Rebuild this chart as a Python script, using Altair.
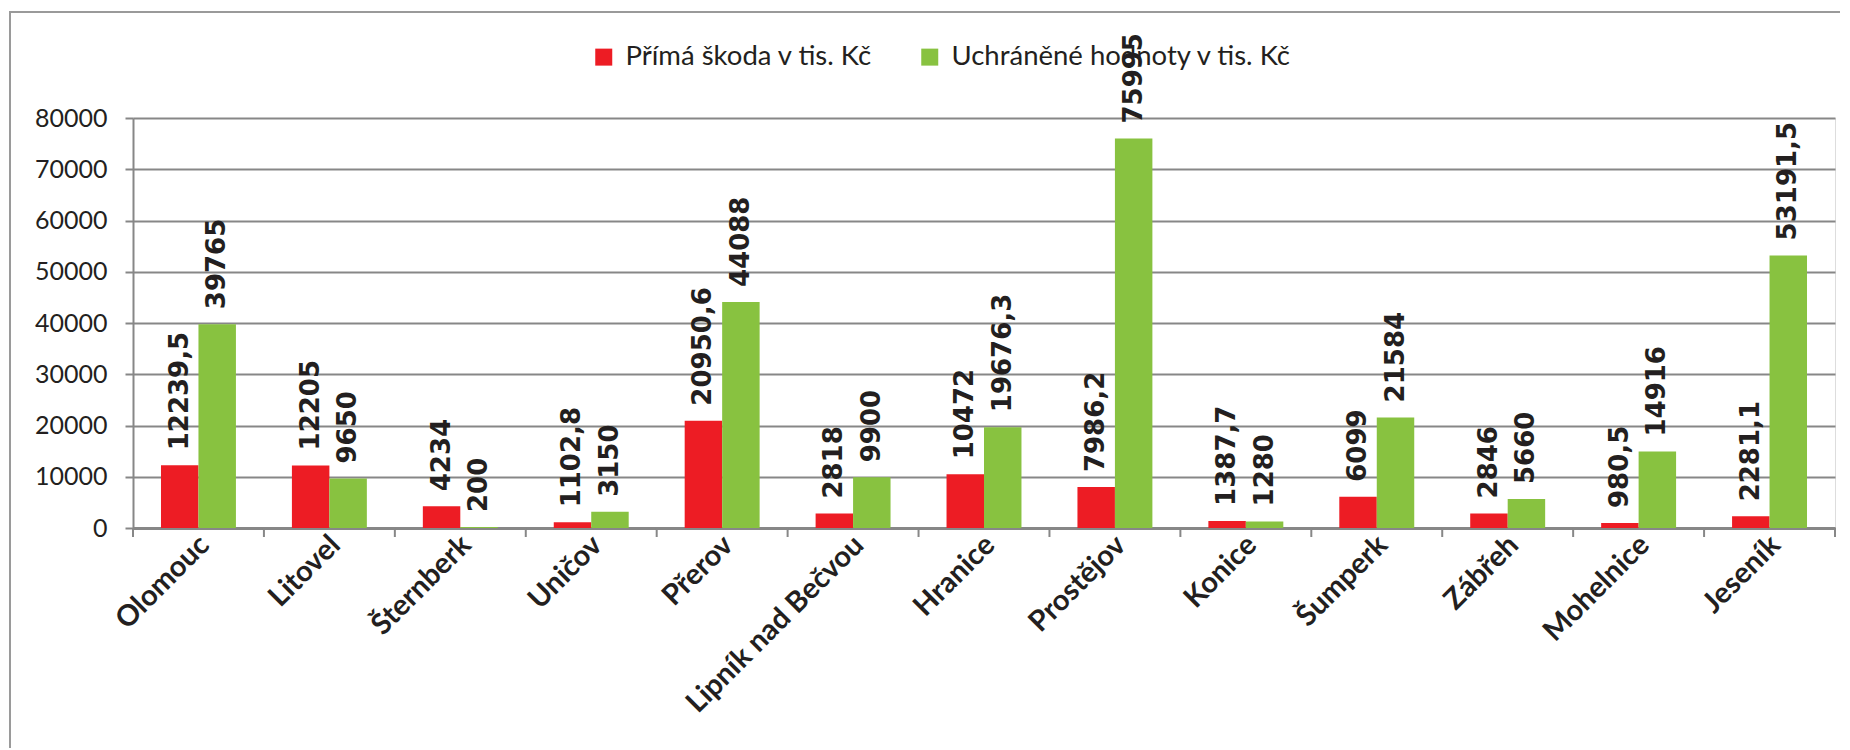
import altair as alt
import pandas as pd

cities = ["Olomouc", "Litovel", "Šternberk", "Uničov", "Přerov", "Lipník nad Bečvou",
          "Hranice", "Prostějov", "Konice", "Šumperk", "Zábřeh", "Mohelnice", "Jeseník"]
prima_skoda = [12239.5, 12205, 4234, 1102.8, 20950.6, 2818, 10472, 7986.2, 1387.7, 6099, 2846, 980.5, 2281.1]
uchranene = [39765, 9650, 200, 3150, 44088, 9900, 19676.3, 75995, 1280, 21584, 5660, 14916, 53191.5]
series = ["Přímá škoda v tis.  Kč", "Uchráněné hodnoty v tis. Kč"]
colors = ["#ED1C24", "#88C240"]
y_ticks = [0, 10000, 20000, 30000, 40000, 50000, 60000, 70000, 80000]

rows = []
for c, a, b in zip(cities, prima_skoda, uchranene):
    for s, v in zip(series, [a, b]):
        rows.append({"city": c, "series": s, "value": v,
                     "label": f"{v:g}".replace(".", ",")})
df = pd.DataFrame(rows)
cities_df = pd.DataFrame({"city": cities})
one = pd.DataFrame({"a": [0]})

W, H = 1702, 410
GRAY = "#878787"
TXT = "#231F20"

x_scale = alt.Scale(paddingInner=0, paddingOuter=0)
x_axis = alt.Axis(labelAngle=-45, labelAlign="right", labelBaseline="middle",
                  labelFont="Lato", labelFontWeight="bold", labelFontSize=29,
                  labelColor=TXT, labelPadding=12, labelLimit=500, labelOffset=6,
                  ticks=False, labelOverlap=False,
                  domainColor=GRAY, domainWidth=3, grid=False)
x_enc = alt.X("city:N", sort=cities, title=None, scale=x_scale, axis=x_axis)
xoff = alt.XOffset("series:N", sort=series,
                   scale=alt.Scale(paddingInner=0, paddingOuter=0.747))
y_enc = alt.Y("value:Q", title=None,
              scale=alt.Scale(domain=[0, 80000], nice=False),
              axis=alt.Axis(values=y_ticks, format="d", labelFont="Lato", labelFontSize=25,
                            labelColor=TXT, labelPadding=18, tickSize=8, tickColor=GRAY,
                            tickWidth=2, domainColor=GRAY, domainWidth=2,
                            gridColor=GRAY, gridWidth=2, grid=True))

border = alt.Chart(one).mark_rect(fillOpacity=0, stroke="#9a9a9a", strokeWidth=2).encode(
    x=alt.value(-123), y=alt.value(-106), x2=alt.value(W + 200), y2=alt.value(H + 400))

bars = alt.Chart(df).mark_bar().encode(
    x=x_enc, xOffset=xoff, y=y_enc,
    color=alt.Color("series:N", sort=series,
                    scale=alt.Scale(domain=series, range=colors),
                    legend=alt.Legend(title=None, orient="none", legendX=457, legendY=-75,
                                      direction="horizontal", symbolType="square",
                                      symbolSize=289, symbolStrokeWidth=0,
                                      labelFont="Lato", labelFontSize=27.5, labelColor=TXT,
                                      labelOffset=8, columnPadding=36, padding=0,
                                      labelLimit=500)))

labels = alt.Chart(df).mark_text(angle=270, align="left", baseline="middle", dx=15,
                                 font="DejaVu Sans", fontWeight="bold", fontSize=26,
                                 color=TXT).encode(
    x=x_enc, xOffset=xoff, y=y_enc, text="label:N")

ticks = alt.Chart(cities_df).mark_rule(color=GRAY, strokeWidth=2).encode(
    x=alt.X("city:N", sort=cities, title=None, scale=x_scale, axis=x_axis, bandPosition=0),
    y=alt.value(H), y2=alt.value(H + 9))

end_tick = alt.Chart(one).mark_rule(color=GRAY, strokeWidth=2).encode(
    x=alt.value(W), y=alt.value(H), y2=alt.value(H + 9))

chart = alt.layer(border, bars, labels, ticks, end_tick).properties(
    width=W, height=H,
    autosize=alt.AutoSizeParams(type="none"),
    padding={"left": 125, "top": 110, "right": 5, "bottom": 220},
).configure_view(stroke=None).configure(background="white")

chart.save("out.html", embed_options={"renderer": "svg", "actions": False})
